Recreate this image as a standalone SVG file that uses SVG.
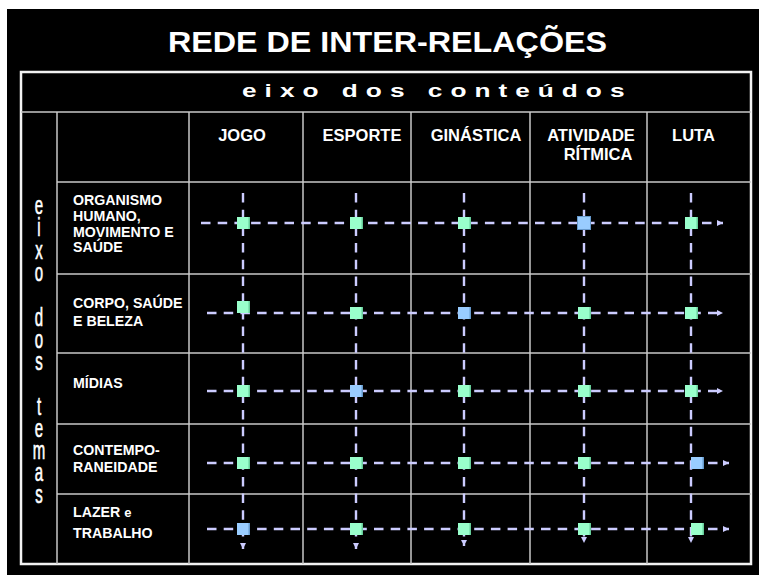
<svg xmlns="http://www.w3.org/2000/svg" width="759" height="577" viewBox="0 0 759 577">
<defs>
<style>
.t{fill:#fff;font-family:"Liberation Sans",Arial,sans-serif;font-weight:bold}
.hd{font-size:16.5px}
.rl{font-size:14.2px}
.grid{stroke:#c8c8c8;stroke-width:1.5;fill:none}
.outer{stroke:#f2f2f2;stroke-width:2.5;fill:none}
.h{stroke:#ccccff;stroke-width:2.4;stroke-dasharray:9.5 7.2;fill:none;marker-end:url(#ah)}
.v{stroke:#ccccff;stroke-width:2.4;stroke-dasharray:9.5 7.2;fill:none;marker-end:url(#av)}
.g{fill:#99ffcc}
.gs{fill:#66cc99}
.b{fill:#99ccff}
.bs{fill:#6699cc}
.vt{fill:#fff;font-family:"Liberation Sans",Arial,sans-serif;font-size:25px;stroke:#fff;stroke-width:0.6}
</style>
<marker id="ah" markerUnits="userSpaceOnUse" markerWidth="7" markerHeight="7" refX="6" refY="3.5" orient="0"><path d="M0,0.5 L6,3.5 L0,6.5 Z" fill="#ccccff"/></marker>
<marker id="av" markerUnits="userSpaceOnUse" markerWidth="7" markerHeight="7" refX="3.5" refY="6" orient="0"><path d="M0.5,0 L6.5,0 L3.5,6 Z" fill="#ccccff"/></marker>
</defs>
<rect x="0" y="0" width="759" height="577" fill="#fff"/>
<rect x="7" y="9" width="752" height="566" fill="#000"/>
<g id="title"><text class="t" x="168" y="52" font-size="30" textLength="439" lengthAdjust="spacingAndGlyphs">REDE DE INTER-RELAÇÕES</text></g>
<g id="table">
<rect class="outer" x="21" y="72" width="730" height="492"/>
<line class="grid" x1="21" y1="112" x2="751" y2="112"/>
<line class="grid" x1="57" y1="182" x2="751" y2="182"/>
<line class="grid" x1="57" y1="274" x2="751" y2="274"/>
<line class="grid" x1="57" y1="353" x2="751" y2="353"/>
<line class="grid" x1="57" y1="424" x2="751" y2="424"/>
<line class="grid" x1="57" y1="494" x2="751" y2="494"/>
<line class="grid" x1="57" y1="112" x2="57" y2="564"/>
<line class="grid" x1="189" y1="112" x2="189" y2="564"/>
<line class="grid" x1="303" y1="112" x2="303" y2="564"/>
<line class="grid" x1="411" y1="112" x2="411" y2="564"/>
<line class="grid" x1="530" y1="112" x2="530" y2="564"/>
<line class="grid" x1="647" y1="112" x2="647" y2="564"/>
</g>
<g id="axis-conteudos"><text class="t" transform="translate(242 97) scale(1.5 1)" x="0" y="0" font-size="17.5" textLength="255" lengthAdjust="spacing">eixo dos conteúdos</text></g>
<g id="axis-temas"><text class="vt" transform="translate(39 0) scale(0.6 1)" text-anchor="middle"><tspan x="0" y="214">e</tspan><tspan x="0" y="236">i</tspan><tspan x="0" y="259">x</tspan><tspan x="0" y="281">o</tspan><tspan x="0" y="326">d</tspan><tspan x="0" y="348">o</tspan><tspan x="0" y="370">s</tspan><tspan x="0" y="415">t</tspan><tspan x="0" y="437">e</tspan><tspan x="0" y="459">m</tspan><tspan x="0" y="481">a</tspan><tspan x="0" y="503">s</tspan></text></g>
<g id="headers">
<text class="t hd" x="242" y="141" text-anchor="middle">JOGO</text>
<text class="t hd" x="362" y="141" text-anchor="middle">ESPORTE</text>
<text class="t hd" x="476" y="141" text-anchor="middle">GINÁSTICA</text>
<text class="t hd" x="591" y="141" text-anchor="middle">ATIVIDADE</text>
<text class="t hd" x="598" y="160" text-anchor="middle">RÍTMICA</text>
<text class="t hd" x="693.5" y="141" text-anchor="middle">LUTA</text>
</g>
<g id="row-labels">
<text class="t rl" x="73" y="205">ORGANISMO</text>
<text class="t rl" x="73" y="221">HUMANO,</text>
<text class="t rl" x="73" y="237">MOVIMENTO E</text>
<text class="t rl" x="73" y="252">SAÚDE</text>
<text class="t rl" x="73" y="308">CORPO, SAÚDE</text>
<text class="t rl" x="73" y="326">E BELEZA</text>
<text class="t rl" x="73" y="388">MÍDIAS</text>
<text class="t rl" x="73" y="455">CONTEMPO-</text>
<text class="t rl" x="73" y="472">RANEIDADE</text>
<text class="t rl" x="73" y="517">LAZER <tspan font-size="13">e</tspan></text>
<text class="t rl" x="73" y="538">TRABALHO</text>
</g>
<g id="connectors">
<line class="h" x1="201" y1="223" x2="723" y2="223"/>
<line class="h" x1="207" y1="313" x2="723" y2="313"/>
<line class="h" x1="207" y1="391" x2="723" y2="391"/>
<line class="h" x1="207" y1="463" x2="729" y2="463"/>
<line class="h" x1="207" y1="529" x2="729" y2="529"/>
<line class="v" x1="243" y1="193" x2="243" y2="549"/>
<line class="v" x1="356" y1="193" x2="356" y2="549"/>
<line class="v" x1="464" y1="193" x2="464" y2="546"/>
<line class="v" x1="584" y1="193" x2="584" y2="543"/>
<line class="v" x1="691" y1="193" x2="691" y2="543"/>
</g>
<g id="nodes">
<g id="n11"><rect class="g" x="237" y="217" width="13" height="12"/><rect class="gs" x="248.5" y="217" width="1.5" height="12"/></g>
<g id="n12"><rect class="g" x="350" y="217" width="13" height="12"/><rect class="gs" x="361.5" y="217" width="1.5" height="12"/></g>
<g id="n13"><rect class="g" x="458" y="217" width="13" height="12"/><rect class="gs" x="469.5" y="217" width="1.5" height="12"/></g>
<g id="n14"><rect class="b" x="577.5" y="216.5" width="13" height="13" stroke="#6699cc" stroke-width="1"/></g>
<g id="n15"><rect class="g" x="685" y="217" width="13" height="12"/><rect class="gs" x="696.5" y="217" width="1.5" height="12"/></g>
<g id="n21"><rect class="g" x="237" y="301" width="13" height="12"/><rect class="gs" x="248.5" y="301" width="1.5" height="12"/></g>
<g id="n22"><rect class="g" x="350" y="307" width="13" height="12"/><rect class="gs" x="361.5" y="307" width="1.5" height="12"/></g>
<g id="n23"><rect class="b" x="458" y="307" width="13" height="12"/><rect class="bs" x="469.5" y="307" width="1.5" height="12"/></g>
<g id="n24"><rect class="g" x="578" y="307" width="13" height="12"/><rect class="gs" x="589.5" y="307" width="1.5" height="12"/></g>
<g id="n25"><rect class="g" x="685" y="307" width="13" height="12"/><rect class="gs" x="696.5" y="307" width="1.5" height="12"/></g>
<g id="n31"><rect class="g" x="237" y="385" width="13" height="12"/><rect class="gs" x="248.5" y="385" width="1.5" height="12"/></g>
<g id="n32"><rect class="b" x="350" y="385" width="13" height="12"/><rect class="bs" x="361.5" y="385" width="1.5" height="12"/></g>
<g id="n33"><rect class="g" x="458" y="385" width="13" height="12"/><rect class="gs" x="469.5" y="385" width="1.5" height="12"/></g>
<g id="n34"><rect class="g" x="578" y="385" width="13" height="12"/><rect class="gs" x="589.5" y="385" width="1.5" height="12"/></g>
<g id="n35"><rect class="g" x="685" y="385" width="13" height="12"/><rect class="gs" x="696.5" y="385" width="1.5" height="12"/></g>
<g id="n41"><rect class="g" x="237" y="457" width="13" height="12"/><rect class="gs" x="248.5" y="457" width="1.5" height="12"/></g>
<g id="n42"><rect class="g" x="350" y="457" width="13" height="12"/><rect class="gs" x="361.5" y="457" width="1.5" height="12"/></g>
<g id="n43"><rect class="g" x="458" y="457" width="13" height="12"/><rect class="gs" x="469.5" y="457" width="1.5" height="12"/></g>
<g id="n44"><rect class="g" x="578" y="457" width="13" height="12"/><rect class="gs" x="589.5" y="457" width="1.5" height="12"/></g>
<g id="n45"><rect class="b" x="691" y="457" width="13" height="12"/><rect class="bs" x="702.5" y="457" width="1.5" height="12"/></g>
<g id="n51"><rect class="b" x="237" y="523" width="13" height="12"/><rect class="bs" x="248.5" y="523" width="1.5" height="12"/></g>
<g id="n52"><rect class="g" x="350" y="523" width="13" height="12"/><rect class="gs" x="361.5" y="523" width="1.5" height="12"/></g>
<g id="n53"><rect class="g" x="458" y="523" width="13" height="12"/><rect class="gs" x="469.5" y="523" width="1.5" height="12"/></g>
<g id="n54"><rect class="g" x="578" y="523" width="13" height="12"/><rect class="gs" x="589.5" y="523" width="1.5" height="12"/></g>
<g id="n55"><rect class="g" x="691" y="523" width="13" height="12"/><rect class="gs" x="702.5" y="523" width="1.5" height="12"/></g>
</g>
</svg>
